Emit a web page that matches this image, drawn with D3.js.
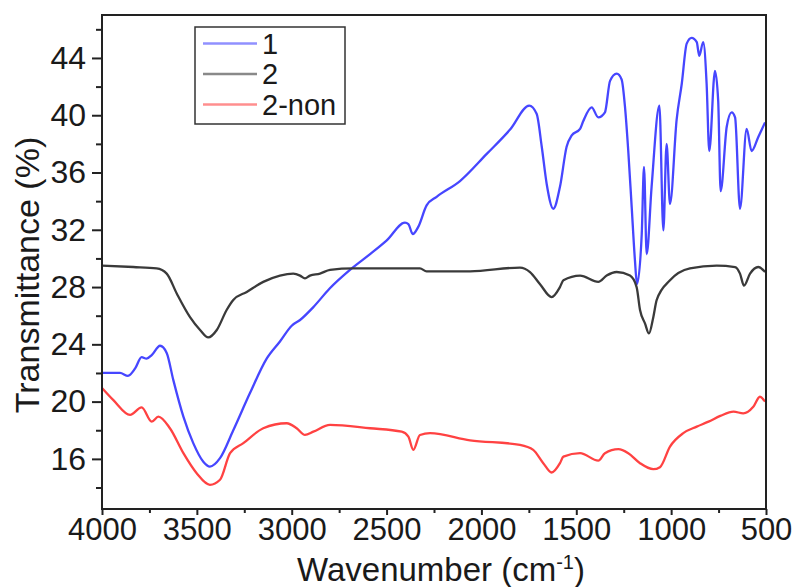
<!DOCTYPE html>
<html>
<head>
<meta charset="utf-8">
<script src="https://cdn.jsdelivr.net/npm/d3@7"></script>
<style>
  body { margin: 0; background: #fff; }
  svg text { font-family: "Liberation Sans", Arial, sans-serif; fill: #1a1a1a; }
  .tick line { stroke: #222; stroke-width: 2; }
</style>
</head>
<body>
<svg width="803" height="587"></svg>
<script>
// [wavenumber (cm-1), transmittance (%)]
const spectrum1 = [
  [4000, 22.0], [3905, 22.0], [3863, 21.8], [3826, 22.3], [3791, 23.1], [3765, 23.0],
  [3738, 23.25], [3694, 23.9], [3659, 23.4], [3624, 21.5], [3571, 18.95], [3519, 17.1],
  [3466, 15.8], [3431, 15.46], [3378, 16.05], [3308, 18.0], [3220, 20.6], [3132, 23.0],
  [3062, 24.2], [3000, 25.3], [2956, 25.7], [2886, 26.6], [2800, 27.9], [2693, 29.2],
  [2587, 30.3], [2499, 31.26], [2403, 32.5], [2385, 32.4], [2362, 31.7], [2333, 32.2],
  [2289, 33.7], [2236, 34.3], [2113, 35.4], [1972, 37.3], [1849, 39.0], [1748, 40.67],
  [1709, 40.1], [1682, 37.8], [1656, 35.2], [1621, 33.47], [1586, 35.0], [1551, 37.8],
  [1524, 38.6], [1480, 39.05], [1463, 39.6], [1419, 40.55], [1384, 39.85], [1349, 40.2],
  [1322, 42.4], [1287, 42.9], [1261, 42.5], [1243, 40.55], [1226, 37.5], [1208, 33.6],
  [1191, 29.9], [1180, 28.2], [1155, 31.7], [1143, 36.4], [1129, 30.3], [1103, 35.0],
  [1062, 40.67], [1041, 31.96], [1024, 38.0], [1006, 33.8], [971, 39.7], [944, 42.2],
  [918, 45.0], [892, 45.4], [865, 45.1], [852, 44.15], [831, 45.1], [813, 42.2],
  [799, 37.5], [769, 43.1], [752, 41.0], [739, 34.7], [707, 39.2], [681, 40.2],
  [663, 39.85], [637, 33.47], [602, 39.05], [576, 37.5], [540, 38.5], [505, 39.5]
]
const spectrum2 = [
  [4000, 29.5], [3835, 29.4], [3712, 29.3], [3659, 28.94], [3606, 27.55], [3536, 25.9],
  [3483, 25.0], [3440, 24.48], [3395, 25.0], [3343, 26.4], [3308, 27.1], [3237, 27.66],
  [3150, 28.36], [3062, 28.8], [2992, 28.94], [2956, 28.8], [2930, 28.6], [2904, 28.8],
  [2851, 28.94], [2798, 29.2], [2675, 29.3], [2324, 29.3], [2289, 29.1], [2060, 29.1],
  [1797, 29.36], [1744, 29.05], [1691, 28.2], [1630, 27.3], [1586, 28.0], [1568, 28.47],
  [1480, 28.8], [1384, 28.36], [1340, 28.8], [1287, 29.05], [1217, 28.8], [1182, 28.0],
  [1164, 26.4], [1138, 25.46], [1117, 24.76], [1094, 25.9], [1076, 27.1], [1006, 28.47],
  [901, 29.3], [760, 29.5], [663, 29.4], [637, 28.94], [616, 28.1], [584, 28.94],
  [541, 29.4], [505, 29.05]
]
const spectrum2non = [
  [4000, 20.95], [3940, 20.1], [3852, 19.07], [3791, 19.6], [3738, 18.6], [3703, 18.95],
  [3642, 18.14], [3571, 16.4], [3501, 15.0], [3431, 14.19], [3378, 14.54], [3325, 16.4],
  [3255, 17.1], [3150, 18.14], [3026, 18.49], [2974, 18.14], [2930, 17.67], [2886, 17.9],
  [2798, 18.37], [2587, 18.14], [2420, 17.9], [2385, 17.55], [2359, 16.63], [2324, 17.67],
  [2271, 17.8], [2060, 17.3], [1797, 16.98], [1727, 16.63], [1674, 15.7], [1630, 15.05],
  [1586, 15.7], [1568, 16.16], [1480, 16.4], [1384, 15.88], [1349, 16.4], [1278, 16.68],
  [1226, 16.4], [1164, 15.7], [1094, 15.28], [1059, 15.42], [1006, 16.86], [936, 17.8],
  [865, 18.25], [803, 18.6], [741, 19.0], [671, 19.3], [620, 19.18], [567, 19.64],
  [532, 20.34], [505, 20.0]
]
const seriesNames = ["1", "2", "2-non"]
const seriesColors = ["#4646ff", "#3a3a3a", "#ff4242"]
const xTicks = [4000, 3500, 3000, 2500, 2000, 1500, 1000, 500]
const xMinorTicks = [3750, 3250, 2750, 2250, 1750, 1250, 750]
const yTicks = [16, 20, 24, 28, 32, 36, 40, 44]
const yMinorTicks = [14, 18, 22, 26, 30, 34, 38, 42, 46]

const svg = d3.select("svg")
const width = +svg.attr("width")
const height = +svg.attr("height")

const render = () => {
  const margin = { top: 15, right: 37, bottom: 78, left: 102 }
  const innerWidth = width - margin.left - margin.right
  const innerHeight = height - margin.top - margin.bottom

  const xScale = d3.scaleLinear().domain([4000, 500]).range([0, innerWidth])
  const yScale = d3.scaleLinear().domain([12.5, 47]).range([innerHeight, 0])

  const g = svg
    .append("g")
    .attr("transform", `translate(${margin.left},${margin.top})`)

  // minor ticks
  const xMinorG = g.append("g")
    .attr("transform", `translate(0,${innerHeight})`)
    .call(d3.axisBottom(xScale).tickValues(xMinorTicks).tickSize(4).tickFormat(""))
  xMinorG.select(".domain").remove()
  const yMinorG = g.append("g")
    .call(d3.axisLeft(yScale).tickValues(yMinorTicks).tickSize(6).tickFormat(""))
  yMinorG.select(".domain").remove()

  // major ticks
  const xAxisG = g.append("g")
    .attr("transform", `translate(0,${innerHeight})`)
    .call(d3.axisBottom(xScale).tickValues(xTicks).tickSize(6).tickPadding(3).tickFormat(d3.format("d")))
  xAxisG.select(".domain").remove()
  xAxisG.selectAll("text").style("font-size", "31px")

  const yAxisG = g.append("g")
    .call(d3.axisLeft(yScale).tickValues(yTicks).tickSize(10).tickPadding(6))
  yAxisG.select(".domain").remove()
  yAxisG.selectAll("text").style("font-size", "32px")

  // spectra
  const line = d3.line()
    .x((d) => xScale(d[0]))
    .y((d) => yScale(d[1]))
    .curve(d3.curveMonotoneX)

  const allSeries = [spectrum1, spectrum2, spectrum2non]
  g.selectAll(".spectrum")
    .data(allSeries)
    .enter()
    .append("path")
    .attr("class", "spectrum")
    .attr("fill", "none")
    .attr("stroke", (d, i) => seriesColors[i])
    .attr("stroke-width", 2.3)
    .attr("stroke-linejoin", "round")
    .attr("d", line)

  // frame
  g.append("rect")
    .attr("width", innerWidth)
    .attr("height", innerHeight)
    .attr("fill", "none")
    .attr("stroke", "#222")
    .attr("stroke-width", 2)

  // legend
  const legend = g.append("g").attr("transform", `translate(${195 - margin.left},${27 - margin.top})`)
  legend.append("rect")
    .attr("width", 150)
    .attr("height", 97)
    .attr("fill", "#fff")
    .attr("stroke", "#333")
    .attr("stroke-width", 1.5)
  const rows = legend.selectAll(".row")
    .data(seriesNames)
    .enter()
    .append("g")
    .attr("transform", (d, i) => `translate(0,${16.5 + i * 30.5})`)
  rows.append("line")
    .attr("x1", 8).attr("x2", 62)
    .attr("stroke", (d, i) => seriesColors[i])
    .attr("stroke-opacity", 0.6)
    .attr("stroke-width", 2.3)
  rows.append("text")
    .attr("x", 67)
    .attr("y", 10)
    .style("font-size", "29px")
    .text((d) => d)

  // axis labels
  svg.append("text")
    .attr("x", margin.left + innerWidth / 2 + 7)
    .attr("y", 581)
    .attr("text-anchor", "middle")
    .style("font-size", "33px")
    .html("Wavenumber (cm<tspan dy='-12' font-size='20px'>-1</tspan><tspan dy='12'>)</tspan>")

  svg.append("text")
    .attr("transform", `translate(39,${275}) rotate(-90)`)
    .attr("text-anchor", "middle")
    .style("font-size", "34px")
    .text("Transmittance (%)")
}

render()
</script>
</body>
</html>
